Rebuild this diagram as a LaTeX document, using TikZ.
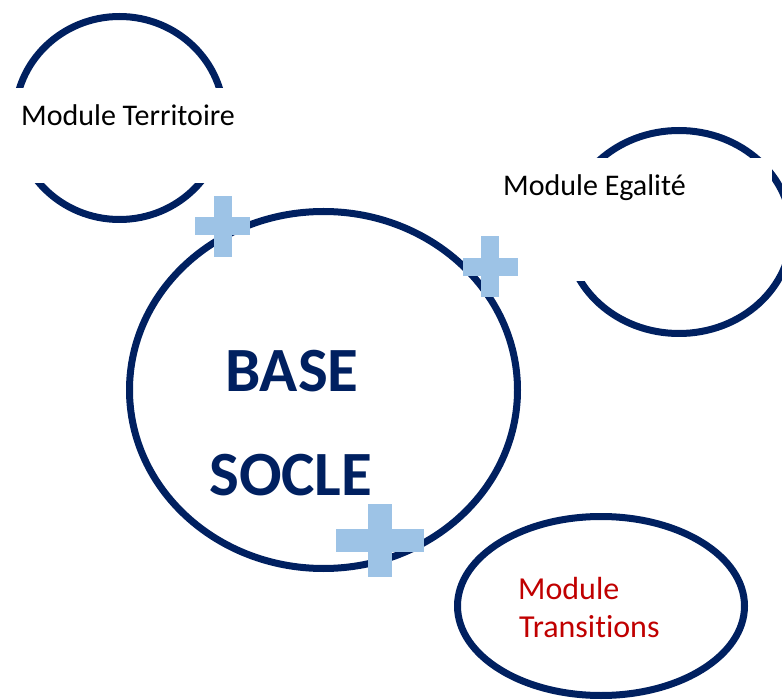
\documentclass[tikz,border=0pt]{standalone}
\usepackage{fontspec}
\setmainfont{Carlito}[Ligatures=NoCommon]
\usetikzlibrary{shapes.geometric}
\definecolor{navy}{HTML}{002060}
\definecolor{plusblue}{HTML}{9DC3E6}
\definecolor{darkred}{HTML}{C00000}
\tikzset{
  ring/.style={draw=navy, line width=7pt, ellipse, inner sep=0pt},
  mask/.style={fill=white, draw=none, rectangle, inner sep=0pt},
  modtext/.style={anchor=base west, inner sep=0pt, font=\fontsize{30}{36}\selectfont},
  basetext/.style={anchor=base west, inner sep=0pt, text=navy, font=\fontsize{63}{70}\selectfont\bfseries},
  plusfill/.style={fill=plusblue}
}
\begin{document}
\begin{tikzpicture}[x=1pt,y=-1pt]
\useasboundingbox (0,0) rectangle (782,700);
% rings
\node[ring, minimum width=209pt, minimum height=203pt] (terr) at (119.5,118) {};
\node[ring, minimum width=225pt, minimum height=203pt] (egal) at (679,232) {};
\node[ring, minimum width=388pt, minimum height=357pt] (base) at (323.5,390) {};
\node[ring, minimum width=287pt, minimum height=179pt] (trans) at (601,606) {};
% white masks
\node[mask, minimum width=240pt, minimum height=95pt] (terrmask) at (120,135.5) {};
\node[mask, minimum width=277pt, minimum height=123pt] (egalmask) at (633.5,219.5) {};
% texts
\node[modtext] (terrtext) at (21,126) {Module Territoire};
\node[modtext] (egaltext) at (503,196) {Module Egalité};
\node[basetext] (basetxt) at (225,392) {BASE};
\node[basetext] (socletxt) at (209,495) {SOCLE};
\node[modtext, text=darkred, font=\fontsize{32}{38}\selectfont] (transa) at (518,599) {Module};
\node[modtext, text=darkred, font=\fontsize{32}{38}\selectfont] (transb) at (519,637) {Transitions};
% plus signs
\fill[plusfill] (214,196) rectangle (232,257);
\fill[plusfill] (195,217) rectangle (250,235);
\fill[plusfill] (481,236) rectangle (499,297);
\fill[plusfill] (463,258) rectangle (518,276);
\fill[plusfill] (368,504) rectangle (392,577);
\fill[plusfill] (336,529) rectangle (424,552);
\end{tikzpicture}
\end{document}
